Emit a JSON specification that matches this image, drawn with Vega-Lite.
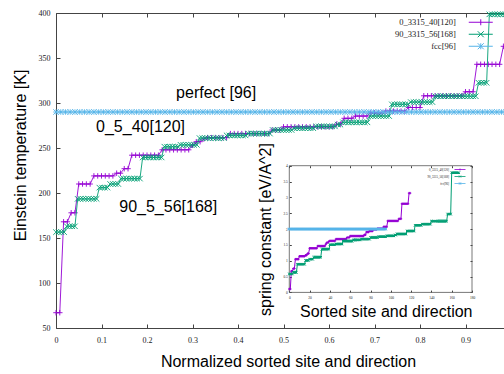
{
  "$schema": "https://vega.github.io/schema/vega-lite/v6.json",
  "width": 455,
  "height": 315,
  "autosize": "none",
  "padding": {"left": 56, "top": 13, "right": 0, "bottom": 46},
  "background": "white",
  "config": {
    "view": {"stroke": null},
    "font": "Liberation Sans",
    "axis": {
      "labelFont": "Liberation Serif",
      "labelColor": "#222",
      "titleFont": "Liberation Sans",
      "titleFontWeight": "normal",
      "titleColor": "black",
      "domainColor": "#444",
      "tickColor": "#444",
      "grid": false,
      "labelFlush": false,
      "labelOverlap": false
    }
  },
  "datasets": {
    "p": [
      {"i":0,"t":67,"k":0.107},{"i":1,"t":67,"k":0.107},
      {"i":2,"t":168,"k":0.671},{"i":3,"t":168,"k":0.671},
      {"i":4,"t":178,"k":0.753},{"i":5,"t":178,"k":0.753},
      {"i":6,"t":210,"k":1.049},{"i":7,"t":210,"k":1.049},{"i":8,"t":210,"k":1.049},{"i":9,"t":210,"k":1.049},
      {"i":10,"t":219,"k":1.141},{"i":11,"t":219,"k":1.141},{"i":12,"t":219,"k":1.141},{"i":13,"t":219,"k":1.141},{"i":14,"t":219,"k":1.141},{"i":15,"t":219,"k":1.141},
      {"i":16,"t":222,"k":1.172},{"i":17,"t":222,"k":1.172},
      {"i":18,"t":227,"k":1.225},{"i":19,"t":227,"k":1.225},
      {"i":20,"t":242,"k":1.393},{"i":21,"t":242,"k":1.393},{"i":22,"t":242,"k":1.393},{"i":23,"t":242,"k":1.393},{"i":24,"t":242,"k":1.393},{"i":25,"t":242,"k":1.393},{"i":26,"t":242,"k":1.393},{"i":27,"t":242,"k":1.393},
      {"i":28,"t":248,"k":1.463},{"i":29,"t":248,"k":1.463},{"i":30,"t":248,"k":1.463},{"i":31,"t":248,"k":1.463},{"i":32,"t":248,"k":1.463},{"i":33,"t":248,"k":1.463},{"i":34,"t":248,"k":1.463},{"i":35,"t":248,"k":1.463},
      {"i":36,"t":253,"k":1.522},
      {"i":37,"t":257,"k":1.571},{"i":38,"t":257,"k":1.571},
      {"i":39,"t":260,"k":1.608},
      {"i":40,"t":261.5,"k":1.626},{"i":41,"t":261.5,"k":1.626},{"i":42,"t":261.5,"k":1.626},{"i":43,"t":261.5,"k":1.626},{"i":44,"t":261.5,"k":1.626},{"i":45,"t":261.5,"k":1.626},
      {"i":46,"t":266,"k":1.683},{"i":47,"t":266,"k":1.683},{"i":48,"t":266,"k":1.683},{"i":49,"t":266,"k":1.683},{"i":50,"t":266,"k":1.683},{"i":51,"t":266,"k":1.683},{"i":52,"t":266,"k":1.683},{"i":53,"t":266,"k":1.683},{"i":54,"t":266,"k":1.683},{"i":55,"t":266,"k":1.683},{"i":56,"t":266,"k":1.683},
      {"i":57,"t":270,"k":1.734},{"i":58,"t":270,"k":1.734},{"i":59,"t":270,"k":1.734},
      {"i":60,"t":273.5,"k":1.779},{"i":61,"t":273.5,"k":1.779},{"i":62,"t":273.5,"k":1.779},{"i":63,"t":273.5,"k":1.779},{"i":64,"t":273.5,"k":1.779},{"i":65,"t":273.5,"k":1.779},{"i":66,"t":273.5,"k":1.779},{"i":67,"t":273.5,"k":1.779},{"i":68,"t":273.5,"k":1.779},{"i":69,"t":273.5,"k":1.779},{"i":70,"t":273.5,"k":1.779},{"i":71,"t":273.5,"k":1.779},{"i":72,"t":273.5,"k":1.779},{"i":73,"t":273.5,"k":1.779},
      {"i":74,"t":276.5,"k":1.818},{"i":75,"t":276.5,"k":1.818},
      {"i":76,"t":283,"k":1.905},{"i":77,"t":283,"k":1.905},{"i":78,"t":283,"k":1.905},
      {"i":79,"t":285.5,"k":1.938},{"i":80,"t":285.5,"k":1.938},{"i":81,"t":285.5,"k":1.938},{"i":82,"t":285.5,"k":1.938},
      {"i":83,"t":289,"k":1.986},{"i":84,"t":289,"k":1.986},{"i":85,"t":289,"k":1.986},{"i":86,"t":289,"k":1.986},
      {"i":87,"t":291,"k":2.014},{"i":88,"t":291,"k":2.014},{"i":89,"t":291,"k":2.014},{"i":90,"t":291,"k":2.014},{"i":91,"t":291,"k":2.014},{"i":92,"t":291,"k":2.014},
      {"i":93,"t":295,"k":2.07},{"i":94,"t":295,"k":2.07},{"i":95,"t":295,"k":2.07},{"i":96,"t":295,"k":2.07},
      {"i":97,"t":308,"k":2.256},{"i":98,"t":308,"k":2.256},{"i":99,"t":308,"k":2.256},{"i":100,"t":308,"k":2.256},{"i":101,"t":308,"k":2.256},{"i":102,"t":308,"k":2.256},{"i":103,"t":308,"k":2.256},{"i":104,"t":308,"k":2.256},{"i":105,"t":308,"k":2.256},{"i":106,"t":308,"k":2.256},{"i":107,"t":308,"k":2.256},
      {"i":108,"t":312.5,"k":2.322},{"i":109,"t":312.5,"k":2.322},{"i":110,"t":312.5,"k":2.322},
      {"i":111,"t":343,"k":2.798},{"i":112,"t":343,"k":2.798},{"i":113,"t":343,"k":2.798},{"i":114,"t":343,"k":2.798},{"i":115,"t":343,"k":2.798},{"i":116,"t":343,"k":2.798},{"i":117,"t":343,"k":2.798},
      {"i":118,"t":363,"k":3.134},{"i":119,"t":363,"k":3.134}
    ],
    "g": [
      {"i":0,"t":156.5,"k":0.582},{"i":1,"t":156.5,"k":0.582},{"i":2,"t":156.5,"k":0.582},{"i":3,"t":156.5,"k":0.582},
      {"i":4,"t":163,"k":0.632},{"i":5,"t":163,"k":0.632},{"i":6,"t":163,"k":0.632},{"i":7,"t":163,"k":0.632},
      {"i":8,"t":193.5,"k":0.89},{"i":9,"t":193.5,"k":0.89},{"i":10,"t":193.5,"k":0.89},{"i":11,"t":193.5,"k":0.89},{"i":12,"t":193.5,"k":0.89},{"i":13,"t":193.5,"k":0.89},{"i":14,"t":193.5,"k":0.89},{"i":15,"t":193.5,"k":0.89},
      {"i":16,"t":206,"k":1.009},{"i":17,"t":206,"k":1.009},{"i":18,"t":206,"k":1.009},{"i":19,"t":206,"k":1.009},
      {"i":20,"t":210,"k":1.049},{"i":21,"t":210,"k":1.049},{"i":22,"t":210,"k":1.049},{"i":23,"t":210,"k":1.049},
      {"i":24,"t":216,"k":1.11},{"i":25,"t":216,"k":1.11},{"i":26,"t":216,"k":1.11},{"i":27,"t":216,"k":1.11},{"i":28,"t":216,"k":1.11},{"i":29,"t":216,"k":1.11},{"i":30,"t":216,"k":1.11},{"i":31,"t":216,"k":1.11},
      {"i":32,"t":239.5,"k":1.364},{"i":33,"t":239.5,"k":1.364},{"i":34,"t":239.5,"k":1.364},{"i":35,"t":239.5,"k":1.364},{"i":36,"t":239.5,"k":1.364},{"i":37,"t":239.5,"k":1.364},{"i":38,"t":239.5,"k":1.364},{"i":39,"t":239.5,"k":1.364},
      {"i":40,"t":251.5,"k":1.504},{"i":41,"t":251.5,"k":1.504},{"i":42,"t":251.5,"k":1.504},{"i":43,"t":251.5,"k":1.504},{"i":44,"t":251.5,"k":1.504},{"i":45,"t":251.5,"k":1.504},
      {"i":46,"t":253.5,"k":1.528},{"i":47,"t":253.5,"k":1.528},{"i":48,"t":253.5,"k":1.528},{"i":49,"t":253.5,"k":1.528},{"i":50,"t":253.5,"k":1.528},{"i":51,"t":253.5,"k":1.528},{"i":52,"t":253.5,"k":1.528},
      {"i":53,"t":261,"k":1.62},{"i":54,"t":261,"k":1.62},{"i":55,"t":261,"k":1.62},{"i":56,"t":261,"k":1.62},{"i":57,"t":261,"k":1.62},{"i":58,"t":261,"k":1.62},{"i":59,"t":261,"k":1.62},{"i":60,"t":261,"k":1.62},{"i":61,"t":261,"k":1.62},{"i":62,"t":261,"k":1.62},
      {"i":63,"t":264,"k":1.657},{"i":64,"t":264,"k":1.657},{"i":65,"t":264,"k":1.657},{"i":66,"t":264,"k":1.657},{"i":67,"t":264,"k":1.657},{"i":68,"t":264,"k":1.657},{"i":69,"t":264,"k":1.657},{"i":70,"t":264,"k":1.657},
      {"i":71,"t":266,"k":1.683},{"i":72,"t":266,"k":1.683},{"i":73,"t":266,"k":1.683},{"i":74,"t":266,"k":1.683},{"i":75,"t":266,"k":1.683},{"i":76,"t":266,"k":1.683},{"i":77,"t":266,"k":1.683},{"i":78,"t":266,"k":1.683},{"i":79,"t":266,"k":1.683},
      {"i":80,"t":270,"k":1.734},{"i":81,"t":270,"k":1.734},{"i":82,"t":270,"k":1.734},{"i":83,"t":270,"k":1.734},{"i":84,"t":270,"k":1.734},{"i":85,"t":270,"k":1.734},{"i":86,"t":270,"k":1.734},{"i":87,"t":270,"k":1.734},
      {"i":88,"t":272,"k":1.759},{"i":89,"t":272,"k":1.759},{"i":90,"t":272,"k":1.759},{"i":91,"t":272,"k":1.759},{"i":92,"t":272,"k":1.759},{"i":93,"t":272,"k":1.759},{"i":94,"t":272,"k":1.759},{"i":95,"t":272,"k":1.759},
      {"i":96,"t":274,"k":1.785},{"i":97,"t":274,"k":1.785},{"i":98,"t":274,"k":1.785},{"i":99,"t":274,"k":1.785},{"i":100,"t":274,"k":1.785},{"i":101,"t":274,"k":1.785},{"i":102,"t":274,"k":1.785},{"i":103,"t":274,"k":1.785},
      {"i":104,"t":276,"k":1.812},{"i":105,"t":276,"k":1.812},
      {"i":106,"t":278.5,"k":1.844},{"i":107,"t":278.5,"k":1.844},{"i":108,"t":278.5,"k":1.844},{"i":109,"t":278.5,"k":1.844},{"i":110,"t":278.5,"k":1.844},{"i":111,"t":278.5,"k":1.844},{"i":112,"t":278.5,"k":1.844},{"i":113,"t":278.5,"k":1.844},{"i":114,"t":278.5,"k":1.844},{"i":115,"t":278.5,"k":1.844},
      {"i":116,"t":285.5,"k":1.938},{"i":117,"t":285.5,"k":1.938},{"i":118,"t":285.5,"k":1.938},{"i":119,"t":285.5,"k":1.938},{"i":120,"t":285.5,"k":1.938},{"i":121,"t":285.5,"k":1.938},{"i":122,"t":285.5,"k":1.938},{"i":123,"t":285.5,"k":1.938},
      {"i":124,"t":298.5,"k":2.119},{"i":125,"t":298.5,"k":2.119},{"i":126,"t":298.5,"k":2.119},{"i":127,"t":298.5,"k":2.119},{"i":128,"t":298.5,"k":2.119},{"i":129,"t":298.5,"k":2.119},{"i":130,"t":298.5,"k":2.119},
      {"i":131,"t":301,"k":2.155},{"i":132,"t":301,"k":2.155},{"i":133,"t":301,"k":2.155},{"i":134,"t":301,"k":2.155},{"i":135,"t":301,"k":2.155},{"i":136,"t":301,"k":2.155},{"i":137,"t":301,"k":2.155},{"i":138,"t":301,"k":2.155},{"i":139,"t":301,"k":2.155},
      {"i":140,"t":307.5,"k":2.249},{"i":141,"t":307.5,"k":2.249},{"i":142,"t":307.5,"k":2.249},{"i":143,"t":307.5,"k":2.249},{"i":144,"t":307.5,"k":2.249},{"i":145,"t":307.5,"k":2.249},{"i":146,"t":307.5,"k":2.249},{"i":147,"t":307.5,"k":2.249},{"i":148,"t":307.5,"k":2.249},{"i":149,"t":307.5,"k":2.249},{"i":150,"t":307.5,"k":2.249},{"i":151,"t":307.5,"k":2.249},{"i":152,"t":307.5,"k":2.249},{"i":153,"t":307.5,"k":2.249},{"i":154,"t":307.5,"k":2.249},{"i":155,"t":307.5,"k":2.249},
      {"i":156,"t":322.5,"k":2.473},{"i":157,"t":322.5,"k":2.473},{"i":158,"t":322.5,"k":2.473},{"i":159,"t":322.5,"k":2.473},
      {"i":160,"t":398.5,"k":3.777},{"i":161,"t":398.5,"k":3.777},{"i":162,"t":398.5,"k":3.777},{"i":163,"t":398.5,"k":3.777},{"i":164,"t":398.5,"k":3.777},{"i":165,"t":398.5,"k":3.777},{"i":166,"t":398.5,"k":3.777},{"i":167,"t":398.5,"k":3.777}
    ],
    "b": [
      {"i":0,"t":290,"k":2},{"i":1,"t":290,"k":2},{"i":2,"t":290,"k":2},{"i":3,"t":290,"k":2},{"i":4,"t":290,"k":2},{"i":5,"t":290,"k":2},{"i":6,"t":290,"k":2},{"i":7,"t":290,"k":2},
      {"i":8,"t":290,"k":2},{"i":9,"t":290,"k":2},{"i":10,"t":290,"k":2},{"i":11,"t":290,"k":2},{"i":12,"t":290,"k":2},{"i":13,"t":290,"k":2},{"i":14,"t":290,"k":2},{"i":15,"t":290,"k":2},
      {"i":16,"t":290,"k":2},{"i":17,"t":290,"k":2},{"i":18,"t":290,"k":2},{"i":19,"t":290,"k":2},{"i":20,"t":290,"k":2},{"i":21,"t":290,"k":2},{"i":22,"t":290,"k":2},{"i":23,"t":290,"k":2},
      {"i":24,"t":290,"k":2},{"i":25,"t":290,"k":2},{"i":26,"t":290,"k":2},{"i":27,"t":290,"k":2},{"i":28,"t":290,"k":2},{"i":29,"t":290,"k":2},{"i":30,"t":290,"k":2},{"i":31,"t":290,"k":2},
      {"i":32,"t":290,"k":2},{"i":33,"t":290,"k":2},{"i":34,"t":290,"k":2},{"i":35,"t":290,"k":2},{"i":36,"t":290,"k":2},{"i":37,"t":290,"k":2},{"i":38,"t":290,"k":2},{"i":39,"t":290,"k":2},
      {"i":40,"t":290,"k":2},{"i":41,"t":290,"k":2},{"i":42,"t":290,"k":2},{"i":43,"t":290,"k":2},{"i":44,"t":290,"k":2},{"i":45,"t":290,"k":2},{"i":46,"t":290,"k":2},{"i":47,"t":290,"k":2},
      {"i":48,"t":290,"k":2},{"i":49,"t":290,"k":2},{"i":50,"t":290,"k":2},{"i":51,"t":290,"k":2},{"i":52,"t":290,"k":2},{"i":53,"t":290,"k":2},{"i":54,"t":290,"k":2},{"i":55,"t":290,"k":2},
      {"i":56,"t":290,"k":2},{"i":57,"t":290,"k":2},{"i":58,"t":290,"k":2},{"i":59,"t":290,"k":2},{"i":60,"t":290,"k":2},{"i":61,"t":290,"k":2},{"i":62,"t":290,"k":2},{"i":63,"t":290,"k":2},
      {"i":64,"t":290,"k":2},{"i":65,"t":290,"k":2},{"i":66,"t":290,"k":2},{"i":67,"t":290,"k":2},{"i":68,"t":290,"k":2},{"i":69,"t":290,"k":2},{"i":70,"t":290,"k":2},{"i":71,"t":290,"k":2},
      {"i":72,"t":290,"k":2},{"i":73,"t":290,"k":2},{"i":74,"t":290,"k":2},{"i":75,"t":290,"k":2},{"i":76,"t":290,"k":2},{"i":77,"t":290,"k":2},{"i":78,"t":290,"k":2},{"i":79,"t":290,"k":2},
      {"i":80,"t":290,"k":2},{"i":81,"t":290,"k":2},{"i":82,"t":290,"k":2},{"i":83,"t":290,"k":2},{"i":84,"t":290,"k":2},{"i":85,"t":290,"k":2},{"i":86,"t":290,"k":2},{"i":87,"t":290,"k":2},
      {"i":88,"t":290,"k":2},{"i":89,"t":290,"k":2},{"i":90,"t":290,"k":2},{"i":91,"t":290,"k":2},{"i":92,"t":290,"k":2},{"i":93,"t":290,"k":2},{"i":94,"t":290,"k":2},{"i":95,"t":290,"k":2}
    ]
  },
  "layer": [
    {
      "encoding": {
        "y": {
          "field": "t",
          "type": "quantitative",
          "scale": {"domain": [50, 400]},
          "axis": {
            "values": [50, 100, 150, 200, 250, 300, 350, 400],
            "tickSize": -4,
            "labelFontSize": 8,
            "labelPadding": 10,
            "title": "Einstein temperature [K]",
            "titleFontSize": 16,
            "titlePadding": 10,
            "titleY": 142
          }
        }
      },
      "layer": [
        {
          "data": {"values": [
            {"x": 0.088, "t": 273.3, "label": "0_5_40[120]"},
            {"x": 0.139, "t": 184, "label": "90_5_56[168]"}
          ]},
          "mark": {"type": "text", "align": "left", "baseline": "middle", "fontSize": 16, "font": "Liberation Sans", "color": "black"},
          "encoding": {
            "x": {
              "field": "x",
              "type": "quantitative",
              "scale": {"domain": [0, 1]},
              "axis": {
                "orient": "bottom",
                "values": [0, 0.1, 0.2, 0.3, 0.4, 0.5, 0.6, 0.7, 0.8, 0.9],
                "format": "~g",
                "tickSize": -4,
                "labelFontSize": 8,
                "labelPadding": 12,
                "title": "Normalized sorted site and direction",
                "titleFontSize": 16,
                "titlePadding": 9,
                "titleX": 232
              }
            },
            "text": {"field": "label"}
          }
        },
        {
          "data": {"values": [{"x": 0.264, "t": 311.5, "label": "perfect [96]"}]},
          "mark": {"type": "text", "align": "left", "baseline": "middle", "fontSize": 16, "font": "Liberation Sans", "color": "black"},
          "encoding": {
            "x": {
              "field": "x",
              "type": "quantitative",
              "scale": {"domain": [0, 1]},
              "axis": {
                "orient": "top",
                "values": [0, 0.1, 0.2, 0.3, 0.4, 0.5, 0.6, 0.7, 0.8, 0.9, 1],
                "tickSize": -4,
                "labels": false,
                "title": null
              }
            },
            "text": {"field": "label"}
          }
        },
        {
          "data": {"name": "p"},
          "mark": {"type": "line", "strokeWidth": 0.9, "point": {"shape": "M-1,0L1,0M0,-1L0,1", "filled": false, "size": 30, "strokeWidth": 0.9}},
          "encoding": {
            "x": {"field": "i", "type": "quantitative", "scale": {"domain": [0, 120]}, "axis": null},
            "color": {
              "datum": "0_3315_40[120]",
              "type": "nominal",
              "scale": {"domain": ["0_3315_40[120]", "90_3315_56[168]", "fcc[96]"], "range": ["#9400d3", "#009e73", "#56b4e9"]},
              "legend": {
                "orient": "none",
                "legendX": 420.5,
                "legendY": 5,
                "title": null,
                "padding": 0,
                "labelAlign": "right",
                "labelOffset": -29.2,
                "labelFont": "Liberation Serif",
                "labelFontSize": 8.5,
                "labelColor": "#222",
                "rowPadding": 1,
                "symbolSize": 36,
                "symbolStrokeWidth": 1,
                "symbolFillColor": "transparent",
                "encode": {
                  "symbols": {
                    "update": {
                      "shape": {"signal": "datum.value == '0_3315_40[120]' ? 'M-4,0L4,0M0,-1L0,1' : datum.value == '90_3315_56[168]' ? 'M-4,0L4,0M-1,-1L1,1M-1,1L1,-1' : 'M-4,0L4,0M0,-1L0,1M-1,-1L1,1M-1,1L1,-1'"},
                      "fill": {"value": "transparent"}
                    }
                  }
                }
              }
            }
          }
        },
        {
          "data": {"name": "g"},
          "mark": {"type": "line", "strokeWidth": 0.9, "point": {"shape": "M-1,-1L1,1M-1,1L1,-1", "filled": false, "size": 30, "strokeWidth": 0.9}},
          "encoding": {
            "x": {"field": "i", "type": "quantitative", "scale": {"domain": [0, 168]}, "axis": null},
            "color": {"datum": "90_3315_56[168]", "type": "nominal"}
          }
        },
        {
          "data": {"name": "b"},
          "mark": {"type": "line", "strokeWidth": 0.9, "point": {"shape": "M-1,0L1,0M0,-1L0,1M-1,-1L1,1M-1,1L1,-1", "filled": false, "size": 30, "strokeWidth": 0.9}},
          "encoding": {
            "x": {"field": "i", "type": "quantitative", "scale": {"domain": [0, 96]}, "axis": null},
            "color": {"datum": "fcc[96]", "type": "nominal"}
          }
        }
      ],
      "resolve": {"scale": {"x": "independent"}, "axis": {"x": "independent"}}
    },
    {
      "layer": [
        {
          "data": {"values": [{}]},
          "mark": {"type": "rect", "fill": null, "stroke": "#555", "strokeWidth": 0.8},
          "encoding": {
            "x": {
              "datum": 0,
              "type": "quantitative",
              "scale": {"domain": [0, 180], "range": [233.3, 416]},
              "axis": {"orient": "top", "offset": -152.7, "values": [0, 20, 40, 60, 80, 100, 120, 140, 160, 180], "labels": false, "tickSize": -2, "domain": false, "title": null}
            },
            "x2": {"datum": 180},
            "y": {
              "datum": 0,
              "type": "quantitative",
              "scale": {"domain": [0, 4], "range": [279.4, 152.7]},
              "axis": {"orient": "right", "offset": -39, "values": [0, 0.5, 1, 1.5, 2, 2.5, 3, 3.5, 4], "labels": false, "tickSize": -2, "domain": false, "title": null}
            },
            "y2": {"datum": 4}
          }
        },
        {
          "data": {"name": "p"},
          "mark": {"type": "line", "strokeWidth": 1, "point": {"shape": "M-1,0L1,0M0,-1L0,1", "filled": false, "size": 6, "strokeWidth": 1}},
          "encoding": {
            "x": {
              "field": "i",
              "type": "quantitative",
              "scale": {"domain": [0, 180], "range": [233.3, 416]},
              "axis": {"orient": "bottom", "offset": -35.9, "values": [0, 20, 40, 60, 80, 100, 120, 140, 160, 180], "tickSize": -2, "domain": false, "labelFontSize": 3.5, "labelPadding": 5, "title": "Sorted site and direction", "titleFontSize": 16, "titlePadding": 5, "titleAnchor": "end"}
            },
            "y": {
              "field": "k",
              "type": "quantitative",
              "scale": {"domain": [0, 4], "range": [279.4, 152.7]},
              "axis": {"orient": "left", "offset": -233.3, "values": [0, 0.5, 1, 1.5, 2, 2.5, 3, 3.5, 4], "format": "~g", "tickSize": -2, "domain": false, "labelFontSize": 3.5, "labelPadding": 4, "title": "spring constant [eV/A^2]", "titleFontSize": 16, "titlePadding": 9}
            },
            "color": {
              "datum": "0_3315_40[120]",
              "type": "nominal",
              "scale": {"domain": ["0_3315_40[120]", "90_3315_56[168]", "fcc[96]"], "range": ["#9400d3", "#009e73", "#56b4e9"]},
              "legend": {
                "orient": "none",
                "legendX": 402.5,
                "legendY": 155,
                "title": null,
                "padding": 0,
                "labelAlign": "right",
                "labelOffset": -12.5,
                "labelFont": "Liberation Serif",
                "labelFontSize": 3,
                "labelColor": "#222",
                "rowPadding": 0,
                "symbolSize": 4,
                "symbolStrokeWidth": 0.8,
                "symbolFillColor": "transparent",
                "encode": {
                  "symbols": {
                    "update": {
                      "shape": {"signal": "datum.value == '0_3315_40[120]' ? 'M-5.5,0L5.5,0M0,-1L0,1' : datum.value == '90_3315_56[168]' ? 'M-5.5,0L5.5,0M-1,-1L1,1M-1,1L1,-1' : 'M-5.5,0L5.5,0M0,-1L0,1M-1,-1L1,1M-1,1L1,-1'"},
                      "fill": {"value": "transparent"}
                    }
                  }
                }
              }
            }
          }
        },
        {
          "data": {"name": "g"},
          "mark": {"type": "line", "strokeWidth": 1, "point": {"shape": "M-1,-1L1,1M-1,1L1,-1", "filled": false, "size": 6, "strokeWidth": 1}},
          "encoding": {
            "x": {"field": "i", "type": "quantitative", "scale": {"domain": [0, 180], "range": [233.3, 416]}, "axis": null},
            "y": {"field": "k", "type": "quantitative", "scale": {"domain": [0, 4], "range": [279.4, 152.7]}, "axis": null},
            "color": {"datum": "90_3315_56[168]", "type": "nominal"}
          }
        },
        {
          "data": {"name": "b"},
          "mark": {"type": "line", "strokeWidth": 1, "point": {"shape": "M-1,0L1,0M0,-1L0,1M-1,-1L1,1M-1,1L1,-1", "filled": false, "size": 6, "strokeWidth": 1}},
          "encoding": {
            "x": {"field": "i", "type": "quantitative", "scale": {"domain": [0, 180], "range": [233.3, 416]}, "axis": null},
            "y": {"field": "k", "type": "quantitative", "scale": {"domain": [0, 4], "range": [279.4, 152.7]}, "axis": null},
            "color": {"datum": "fcc[96]", "type": "nominal"}
          }
        }
      ],
      "resolve": {"scale": {"x": "independent", "y": "independent"}, "axis": {"x": "independent", "y": "independent"}}
    }
  ],
  "resolve": {
    "scale": {"x": "independent", "y": "independent", "color": "independent"},
    "axis": {"x": "independent", "y": "independent"},
    "legend": {"color": "independent"}
  }
}
